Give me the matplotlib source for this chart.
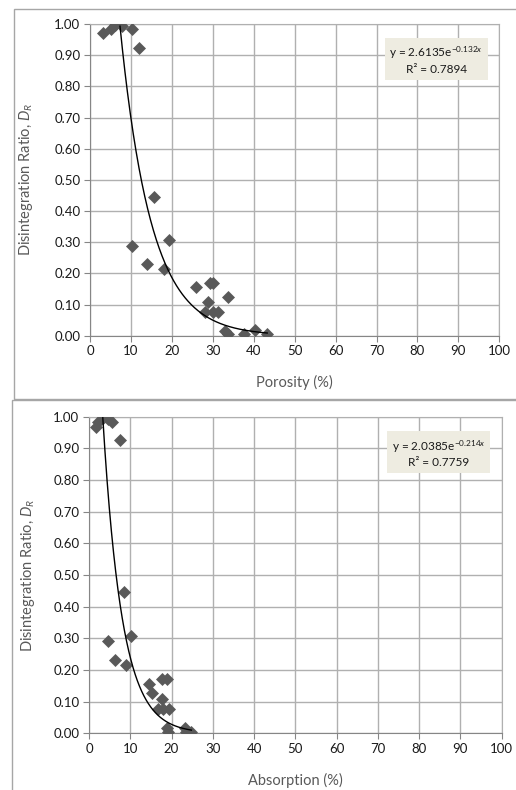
import numpy as np
import matplotlib
matplotlib.use("Agg")
import matplotlib.pyplot as plt
from matplotlib.patches import Rectangle

plt.rcParams["font.family"] = ["Lato", "DejaVu Sans"]
plt.rcParams["mathtext.fontset"] = "custom"
plt.rcParams["mathtext.it"] = "Lato:italic"
plt.rcParams["mathtext.rm"] = "Lato"

# --- data ---
porosity = [3.1, 5.1, 6.1, 7.9, 10.3, 12.0, 15.7, 19.4, 10.2, 14.0, 18.1,
            26.0, 29.2, 30.1, 33.7, 28.9, 28.0, 30.0, 31.2, 32.9, 33.7,
            37.6, 40.3, 43.3]
dr_por = [0.970, 0.984, 0.997, 0.995, 0.984, 0.924, 0.446, 0.307, 0.288,
          0.230, 0.215, 0.156, 0.170, 0.170, 0.124, 0.108, 0.077, 0.077,
          0.077, 0.015, 0.005, 0.005, 0.017, 0.004]

absorption = [1.6, 2.3, 3.5, 4.5, 5.5, 7.5, 8.5, 10.2, 4.5, 6.3, 8.9,
              14.5, 15.2, 17.6, 18.8, 17.8, 16.7, 18.0, 19.3, 18.8, 19.2,
              23.2, 23.4, 24.8]
dr_abs = [0.968, 0.984, 0.997, 0.993, 0.984, 0.926, 0.445, 0.308, 0.290,
          0.232, 0.217, 0.157, 0.126, 0.171, 0.171, 0.107, 0.077, 0.077,
          0.077, 0.016, 0.005, 0.016, 0.005, 0.003]

fit_por = (2.6135, 0.132, 0.7894)
fit_abs = (2.0385, 0.214, 0.7759)

W, H = 516, 790
fig = plt.figure(figsize=(W / 100, H / 100), dpi=100)

# chart-area frames
fig.patches.append(Rectangle((14 / W, 1 - 399 / H), 1, 390 / H, transform=fig.transFigure,
                             fill=False, edgecolor="#a6a6a6", lw=1.0))
fig.patches.append(Rectangle((12 / W, -0.1), 1, 1 - 400 / H + 0.1, transform=fig.transFigure,
                             fill=False, edgecolor="#a6a6a6", lw=1.0))

GRID = "#b0b0b0"
TXT = "#595959"
MARK = "#595959"


def panel(ax, x, y, fit, xlabel, xl_y, yl_x, box):
    a, b, r2 = fit
    ax.set_xlim(0, 100)
    ax.set_ylim(0, 1)
    ax.set_xticks(np.arange(0, 101, 10))
    ax.set_yticks(np.arange(0, 1.01, 0.1))
    ax.set_yticklabels([f"{v:.2f}" for v in np.arange(0, 1.01, 0.1)])
    ax.grid(True, color=GRID, lw=1.0)
    ax.set_axisbelow(True)
    for s in ["top", "right"]:
        ax.spines[s].set_color(GRID)
    for s in ["left", "bottom"]:
        ax.spines[s].set_color("#868686")
    ax.tick_params(length=4, width=0.8, color="#868686", labelsize=9.5,
                   labelcolor="#1a1a1a", pad=3)

    ax.scatter(x, y, marker="D", s=44, color=MARK, zorder=3, linewidths=0)
    xs = np.linspace(min(x), max(x), 400)
    ys = a * np.exp(-b * xs)
    ax.plot(xs[ys <= 1.0], ys[ys <= 1.0], color="black", lw=1.0, zorder=4)

    ax.set_xlabel(xlabel, fontsize=10.5, color=TXT)
    ax.xaxis.set_label_coords(0.5, xl_y)
    ax.set_ylabel(r"Disintegration Ratio, $D_R$", fontsize=10.5, color=TXT)
    ax.yaxis.set_label_coords(yl_x, 0.5)

    bx, by = box
    ax.text(bx, by, f"y = {a:.4f}e$^{{-{b:.3f}x}}$\nR² = {r2:.4f}",
            transform=ax.transAxes, ha="center", va="center", fontsize=8.5,
            color="#1a1a1a", linespacing=1.3,
            bbox=dict(boxstyle="square,pad=0.4", fc="#eeece1", ec="none"),
            zorder=5)


ax1 = fig.add_axes([90 / W, 1 - 335.7 / H, 409.3 / W, 311.7 / H])
panel(ax1, porosity, dr_por, fit_por, "Porosity (%)", -0.125, -0.135, (0.846, 0.885))

ax2 = fig.add_axes([89 / W, 1 - 733.3 / H, 412.7 / W, 316.6 / H])
panel(ax2, absorption, dr_abs, fit_abs, "Absorption (%)", -0.125, -0.125, (0.847, 0.885))

fig.savefig("out.png", dpi=100)
